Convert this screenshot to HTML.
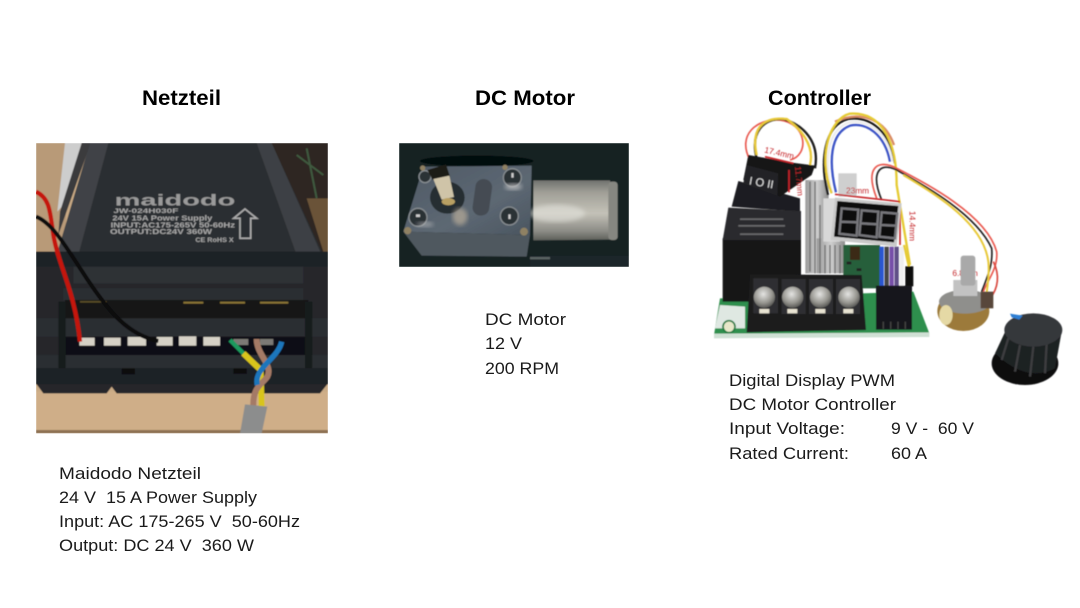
<!DOCTYPE html>
<html><head><meta charset="utf-8"><style>
html,body{margin:0;padding:0;background:#fff;width:1080px;height:608px;overflow:hidden}
svg{display:block}
text{font-family:"Liberation Sans",sans-serif;fill:#111}
.h{font-weight:bold;font-size:21px;fill:#000}
.t{font-size:17px;fill:#1a1a1a}
.lb{fill:#a8a8a8;font-weight:bold}
.r{fill:#c4282c;font-size:25px}
</style></head><body>
<svg width="1080" height="608" viewBox="0 0 1080 608" xmlns="http://www.w3.org/2000/svg">
<defs>
<linearGradient id="cyl" x1="0" y1="0" x2="0" y2="1"><stop offset="0" stop-color="#70726e"/><stop offset=".2" stop-color="#a09f97"/><stop offset=".55" stop-color="#c4c2b8"/><stop offset=".85" stop-color="#8b8b85"/><stop offset="1" stop-color="#5d5f5a"/></linearGradient>
<linearGradient id="box" x1="0" y1="0" x2="1" y2="1"><stop offset="0" stop-color="#4f5a66"/><stop offset=".6" stop-color="#5d6873"/><stop offset="1" stop-color="#4a5560"/></linearGradient>
<linearGradient id="sink" x1="0" y1="0" x2="1" y2="0"><stop offset="0" stop-color="#9a9a9a"/><stop offset=".5" stop-color="#cfcfcf"/><stop offset="1" stop-color="#8d8d8d"/></linearGradient>
<radialGradient id="scr" cx=".45" cy=".35" r=".7"><stop offset="0" stop-color="#e4e4e2"/><stop offset=".6" stop-color="#96958f"/><stop offset="1" stop-color="#4a4a48"/></radialGradient>
<filter id="soft" x="-5%" y="-5%" width="110%" height="110%"><feGaussianBlur stdDeviation="1.3"/></filter>
<filter id="b2"><feGaussianBlur stdDeviation="6"/></filter>
<clipPath id="c1"><rect x="18" y="24" width="876" height="871"/></clipPath>
<clipPath id="c2"><rect x="27" y="24" width="690" height="372"/></clipPath>
</defs>
<rect width="1080" height="608" fill="#fff"/>

<text class="h" x="142" y="105" textLength="79" lengthAdjust="spacingAndGlyphs">Netzteil</text>
<text class="h" x="475" y="105" textLength="100" lengthAdjust="spacingAndGlyphs">DC Motor</text>
<text class="h" x="768" y="105" textLength="103" lengthAdjust="spacingAndGlyphs">Controller</text>

<!-- Power supply photo -->
<g transform="translate(30,135) scale(.33333)" clip-path="url(#c1)">
<g filter="url(#soft)">
<rect x="18" y="24" width="876" height="871" fill="#c9aa85"/>
<rect x="18" y="24" width="90" height="330" fill="#b89a78"/>
<polygon points="105,24 155,24 125,130 100,210 82,230" fill="#cdcdcd"/>
<polygon points="155,24 182,24 85,300 90,230" fill="#3a3a3c"/>
<polygon points="720,24 894,24 894,350 850,350" fill="#2d2620"/>
<polygon points="830,190 894,190 894,350 880,350" fill="#6b5238"/>
<path d="M800 60L880 120M830 40L860 190" stroke="#3f5a3f" stroke-width="6" fill="none"/>
<rect x="18" y="770" width="876" height="125" fill="#cfae88"/>
<rect x="18" y="885" width="876" height="10" fill="#8d7152"/>
<!-- top -->
<polygon points="180,24 725,24 880,360 80,360" fill="#2c2e32"/>
<polygon points="180,24 235,24 145,360 80,360" fill="#414347"/>
<polygon points="680,24 725,24 875,360 800,360" fill="#3e4044"/>
<!-- body -->
<path d="M18 350H894V745L870 775H260L245 755L230 775H40L18 745Z" fill="#25282c"/>
<rect x="18" y="350" width="876" height="45" fill="#1f2125"/>
<rect x="130" y="395" width="690" height="50" fill="#2d3034"/>
<rect x="100" y="460" width="720" height="36" fill="#2c2f33"/>
<rect x="105" y="495" width="730" height="55" fill="#121316"/>
<g fill="#8a7434"><rect x="460" y="500" width="60" height="6"/><rect x="570" y="500" width="75" height="6"/><rect x="690" y="500" width="85" height="6"/><rect x="150" y="498" width="80" height="5" opacity=".6"/></g>
<rect x="18" y="550" width="876" height="55" fill="#2a2d31"/>
<rect x="105" y="605" width="720" height="55" fill="#0e0f12"/>
<rect x="18" y="660" width="876" height="40" fill="#2b2e32"/>
<rect x="18" y="700" width="876" height="48" fill="#1f2226"/>
<rect x="275" y="700" width="40" height="18" fill="#0b0c0e"/>
<rect x="610" y="700" width="40" height="16" fill="#0b0c0e"/>
<rect x="85" y="500" width="22" height="200" fill="#191b1e"/>
<rect x="825" y="500" width="22" height="200" fill="#191b1e"/>
<g fill="#d6d1c6">
<rect x="148" y="608" width="46" height="24"/><rect x="222" y="608" width="50" height="24"/><rect x="293" y="606" width="55" height="26"/><rect x="380" y="606" width="48" height="26"/><rect x="447" y="604" width="52" height="28"/><rect x="520" y="606" width="50" height="26"/><rect x="610" y="612" width="45" height="18" opacity=".55"/><rect x="690" y="612" width="40" height="18" opacity=".55"/>
</g>
<!-- label -->
<text class="lb" x="254" y="211" style="fill:#9a9a9a;font-size:46px" textLength="362" lengthAdjust="spacingAndGlyphs">maidodo</text>
<text class="lb" x="250" y="234" style="font-size:20px" textLength="195" lengthAdjust="spacingAndGlyphs">JW-024H030F</text>
<text class="lb" x="247" y="256" style="font-size:22px" textLength="300" lengthAdjust="spacingAndGlyphs">24V 15A Power Supply</text>
<text class="lb" x="242" y="277" style="font-size:22px" textLength="373" lengthAdjust="spacingAndGlyphs">INPUT:AC175-265V 50-60Hz</text>
<text class="lb" x="240" y="297" style="font-size:22px" textLength="306" lengthAdjust="spacingAndGlyphs">OUTPUT:DC24V 360W</text>
<text class="lb" x="496" y="321" style="font-size:20px" textLength="115" lengthAdjust="spacingAndGlyphs">CE RoHS X</text>
<path d="M645 222L680 250L662 250L662 310L630 310L630 250L611 250Z" fill="none" stroke="#aaa" stroke-width="5"/>
<!-- wires -->
<path d="M18 170C60 190 60 230 70 300C85 390 135 470 150 620" stroke="#c4170f" stroke-width="13" fill="none"/>
<path d="M18 245C70 265 110 340 170 430C230 520 290 600 385 618" stroke="#08080a" stroke-width="12" fill="none"/>
<path d="M600 615L690 705" stroke="#1f9a5f" stroke-width="13" fill="none"/>
<path d="M640 655L692 705L695 815" stroke="#d8c41c" stroke-width="18" fill="none"/>
<path d="M680 612C680 660 730 690 712 725C695 750 668 755 670 815" stroke="#a47a66" stroke-width="18" fill="none"/>
<path d="M755 620C745 670 670 700 682 750" stroke="#1e76bb" stroke-width="16" fill="none"/>
<polygon points="645,808 712,815 695,895 630,895" fill="#8c8d8d"/>
</g>
</g>

<!-- Motor photo -->
<g transform="translate(390,135) scale(.33333)" clip-path="url(#c2)">
<g filter="url(#soft)">
<rect x="27" y="24" width="690" height="372" fill="#142023"/>
<rect x="420" y="362" width="297" height="34" fill="#1c2729"/>
<rect x="420" y="366" width="60" height="7" fill="#a8b0ac" opacity=".45"/>
<ellipse cx="260" cy="78" rx="170" ry="16" fill="#05090a"/>
<path d="M430 136L660 136Q685 225 660 314L430 316Z" fill="url(#cyl)"/>
<ellipse cx="500" cy="235" rx="85" ry="26" fill="#e6e6e0" opacity=".55" filter="url(#b2)"/>
<rect x="655" y="140" width="28" height="175" rx="10" fill="#868781"/>
<polygon points="100,95 425,92 420,300 40,290" fill="url(#box)"/>
<polygon points="40,290 420,300 410,365 95,362" fill="#50585f"/>
<ellipse cx="172" cy="188" rx="52" ry="48" fill="#262d33"/>
<rect x="252" y="132" width="50" height="110" rx="24" fill="#454c53" transform="rotate(8 277 187)"/>
<g fill="#2a3036" stroke="#868c90" stroke-width="4"><circle cx="105" cy="125" r="18"/><circle cx="367" cy="128" r="27"/><circle cx="358" cy="243" r="27"/><circle cx="84" cy="247" r="27"/></g>
<g fill="#ccc"><rect x="364" y="114" width="7" height="14"/><rect x="355" y="238" width="7" height="14"/><rect x="78" y="238" width="12" height="8"/></g>
<g fill="#8f8164"><circle cx="53" cy="287" r="11"/><circle cx="402" cy="290" r="12"/><circle cx="98" cy="99" r="8"/><circle cx="345" cy="97" r="8"/></g>
<polygon points="112,105 168,88 180,125 128,135" fill="#1e1b18"/>
<polygon points="130,132 178,122 192,186 155,194" fill="#cfc4a8"/>
<ellipse cx="175" cy="200" rx="20" ry="11" fill="#b9a064"/>
<ellipse cx="210" cy="245" rx="22" ry="26" fill="#c8b8a0" opacity=".6" filter="url(#b2)"/>
<ellipse cx="370" cy="155" rx="26" ry="10" fill="#c8c8c8" opacity=".7" filter="url(#b2)"/>
<ellipse cx="105" cy="268" rx="26" ry="8" fill="#c8c8c8" opacity=".5" filter="url(#b2)"/>
</g>
</g>

<!-- Controller photo -->
<g transform="translate(700,105) scale(.33333)">
<g filter="url(#soft)">
<!-- PCB -->
<polygon points="60,580 640,560 688,685 42,690" fill="#2f8f4e"/>
<polygon points="42,686 688,682 688,696 42,700" fill="#cfe0d4"/>
<polygon points="60,600 135,605 135,670 45,670" fill="#dfe8e2"/>
<circle cx="87" cy="665" r="18" fill="#e7e7c9" stroke="#1e7a40" stroke-width="5"/>
<!-- Relays -->
<polygon points="115,228 300,280 300,320 95,305" fill="#1f1f21"/>
<rect x="68" y="400" width="235" height="190" fill="#141416"/>
<polygon points="85,308 303,318 303,405 68,405" fill="#2c2c2f"/>
<g fill="#77777a" opacity=".8"><rect x="120" y="340" width="130" height="5"/><rect x="115" y="360" width="140" height="5"/><rect x="120" y="385" width="130" height="5"/></g>
<!-- Heatsink -->
<rect x="316" y="225" width="70" height="280" fill="url(#sink)"/>
<rect x="350" y="400" width="85" height="105" fill="url(#sink)"/>
<rect x="370" y="280" width="50" height="130" fill="#d8d8d8"/>
<rect x="415" y="205" width="55" height="70" fill="#cfcfcf"/>
<path d="M330 230V500M345 230V505M360 300V505M375 420V505M390 420V505M405 420V505M420 420V505" stroke="#6d6d6d" stroke-width="4"/>
<rect x="430" y="420" width="110" height="130" fill="#255f3a"/>
<rect x="450" y="425" width="30" height="40" fill="#3a2c18"/>
<g fill="#222"><rect x="440" y="470" width="14" height="8"/><rect x="470" y="490" width="14" height="8"/><rect x="445" y="510" width="14" height="8"/></g>
<!-- Wires -->
<g fill="none" stroke-width="7">
<path d="M150 165C110 90 170 40 240 45C320 55 330 150 270 165" stroke="#e9594f" stroke-width="5"/>
<path d="M170 160C150 80 190 40 250 42C310 60 360 110 345 190" stroke="#1c1c1c"/>
<path d="M170 150C150 60 200 35 260 42C300 70 345 120 330 180" stroke="#e8c93a"/>
<path d="M408 262C385 170 390 85 450 62C500 50 555 90 570 170" stroke="#3d54c6"/>
<path d="M396 265C372 170 380 75 448 52C505 42 565 85 578 170" stroke="#eee"/>
<path d="M384 270C358 170 372 60 445 42C510 32 572 80 585 175" stroke="#1f1f1f"/>
<path d="M405 50C470 20 550 30 582 120" stroke="#d98a64"/>
<path d="M395 265C352 150 390 40 450 26C540 20 590 100 590 240L630 480" stroke="#e5cb36"/>
<path d="M530 280C495 190 530 165 580 185C680 235 860 330 890 440C895 490 860 530 850 560" stroke="#e9594f" stroke-width="5"/>
<path d="M545 285C510 200 540 170 590 195C680 245 830 330 875 430C880 480 860 520 845 560" stroke="#222" stroke-width="5"/>
<path d="M610 210C700 265 850 350 865 470C870 520 860 545 860 570" stroke="#e8c93a" stroke-width="6"/>
<path d="M880 470C900 510 895 550 870 580" stroke="#d94a40" stroke-width="5"/>
</g>
<!-- Switch -->
<polygon points="145,150 270,172 345,182 335,210 240,275 130,225" fill="#131315"/>
<polygon points="140,180 235,205 232,272 130,235" fill="#232326"/>
<text x="146" y="238" style="fill:#ddd;font-size:34px" transform="rotate(10 146 238)">I O II</text>
<!-- Dims -->
<g stroke="#c6262b" stroke-width="5" fill="none">
<path d="M195 155L280 175"/><path d="M267 195V262"/><path d="M405 268L600 290"/><path d="M600 305V420"/><path d="M765 535H825"/>
</g>
<text class="r" x="192" y="142" transform="rotate(13 192 142)">17.4mm</text>
<text class="r" x="285" y="185" transform="rotate(85 285 185)">11.7mm</text>
<text class="r" x="438" y="265">23mm</text>
<text class="r" x="628" y="318" transform="rotate(90 628 318)">14.4mm</text>
<text class="r" x="757" y="513">6.8mm</text>
<!-- Ribbon and connector -->
<g fill="none" stroke-width="13">
<path d="M545 425L545 545" stroke="#2956cf"/><path d="M560 425L560 545" stroke="#444"/><path d="M575 425L575 545" stroke="#7650a8"/><path d="M590 425L590 545" stroke="#5e4f86"/><path d="M605 425L605 545" stroke="#efefef"/>
</g>
<path d="M612 420L628 490" stroke="#e5cb36" stroke-width="7" fill="none"/>
<!-- Display -->
<polygon points="405,278 605,295 590,425 392,405" fill="#c9c9c9"/>
<polygon points="412,288 595,303 582,412 402,395" fill="#0c0c0e"/>
<g fill="none" stroke="#77777c" stroke-width="7">
<path d="M425 310L475 314L470 392L418 386ZM421 350L472 352"/>
<path d="M485 316L535 320L530 397L478 390ZM481 355L532 358"/>
<path d="M545 322L592 326L585 400L538 395ZM541 360L588 362"/>
</g>
<rect x="616" y="484" width="24" height="60" fill="#111"/>
<rect x="528" y="542" width="108" height="132" fill="#17171a"/>
<path d="M550 650V672M572 650V672M594 650V672M616 650V672" stroke="#444" stroke-width="4"/>
<!-- Terminal block -->
<polygon points="150,508 485,510 498,675 140,682" fill="#1c1c1f"/>
<g fill="#2e2e31"><rect x="160" y="520" width="74" height="105"/><rect x="245" y="522" width="72" height="105"/><rect x="327" y="522" width="72" height="105"/><rect x="408" y="522" width="72" height="105"/></g>
<g fill="url(#scr)"><circle cx="193" cy="577" r="32"/><circle cx="278" cy="577" r="32"/><circle cx="362" cy="577" r="32"/><circle cx="447" cy="577" r="32"/></g>
<g fill="#e8e3d2"><rect x="178" y="612" width="30" height="13"/><rect x="262" y="612" width="30" height="13"/><rect x="346" y="612" width="30" height="13"/><rect x="430" y="612" width="30" height="13"/></g>
<!-- Pot -->
<ellipse cx="790" cy="618" rx="78" ry="60" fill="#9c7a3a"/>
<ellipse cx="795" cy="590" rx="78" ry="36" fill="#8f8f8c"/>
<ellipse cx="738" cy="630" rx="20" ry="30" fill="#e5d9a5"/>
<rect x="760" y="525" width="72" height="48" fill="#c2c2c2"/>
<rect x="782" y="452" width="44" height="90" rx="8" fill="#a9a9a9"/>
<rect x="842" y="560" width="38" height="50" fill="#58473a"/>
<!-- Knob -->
<ellipse cx="975" cy="775" rx="100" ry="65" fill="#0d0d10"/>
<path d="M885 745L925 660L1085 680L1065 790Q980 835 885 745Z" fill="#1f2023"/>
<path d="M925 700L905 765M960 720L945 800M1000 725L990 815M1040 715L1035 805" stroke="#3c3d41" stroke-width="7" fill="none"/>
<ellipse cx="1000" cy="675" rx="87" ry="50" fill="#36373b"/>
<polygon points="930,626 968,632 958,644 935,637" fill="#2d7fd4"/>
</g>
</g>

<!-- Captions -->
<text class="t" x="59" y="479" textLength="142" lengthAdjust="spacingAndGlyphs">Maidodo Netzteil</text>
<text class="t" x="59" y="503" textLength="198" lengthAdjust="spacingAndGlyphs" xml:space="preserve">24 V  15 A Power Supply</text>
<text class="t" x="59" y="527" textLength="241" lengthAdjust="spacingAndGlyphs" xml:space="preserve">Input: AC 175-265 V  50-60Hz</text>
<text class="t" x="59" y="551" textLength="195" lengthAdjust="spacingAndGlyphs" xml:space="preserve">Output: DC 24 V  360 W</text>

<text class="t" x="485" y="325" textLength="81" lengthAdjust="spacingAndGlyphs">DC Motor</text>
<text class="t" x="485" y="349" textLength="37" lengthAdjust="spacingAndGlyphs">12 V</text>
<text class="t" x="485" y="374" textLength="74" lengthAdjust="spacingAndGlyphs">200 RPM</text>

<text class="t" x="729" y="386" textLength="166" lengthAdjust="spacingAndGlyphs">Digital Display PWM</text>
<text class="t" x="729" y="410" textLength="167" lengthAdjust="spacingAndGlyphs">DC Motor Controller</text>
<text class="t" x="729" y="434" textLength="116" lengthAdjust="spacingAndGlyphs">Input Voltage:</text>
<text class="t" x="891" y="434" textLength="83" lengthAdjust="spacingAndGlyphs" xml:space="preserve">9 V -  60 V</text>
<text class="t" x="729" y="459" textLength="120" lengthAdjust="spacingAndGlyphs">Rated Current:</text>
<text class="t" x="891" y="459" textLength="36" lengthAdjust="spacingAndGlyphs">60 A</text>
</svg>
</body></html>
